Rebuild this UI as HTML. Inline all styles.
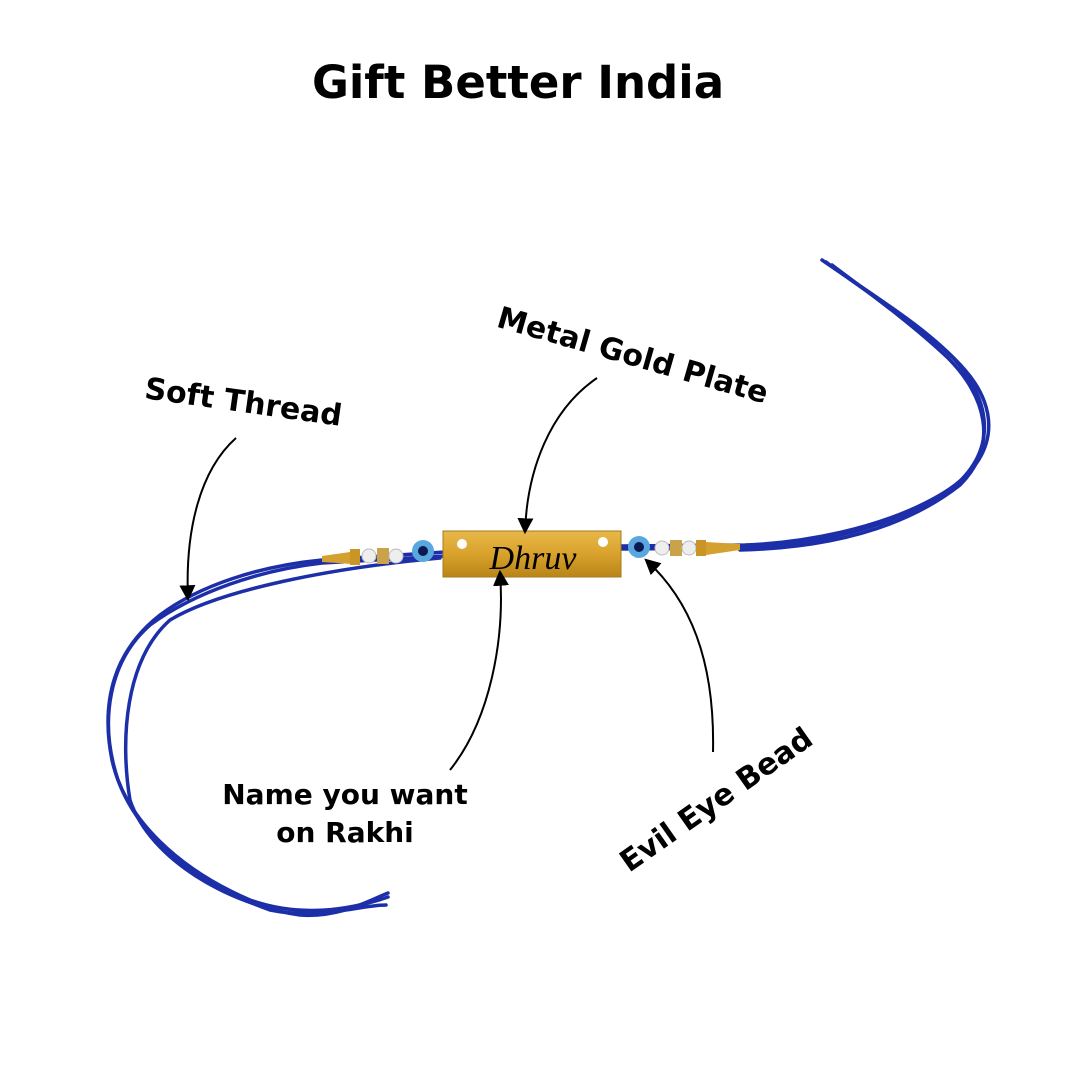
<!DOCTYPE html>
<html><head><style>
body{margin:0;background:#fff;}
svg{display:block}
text{font-family:"DejaVu Sans","Liberation Sans",sans-serif;font-weight:bold;fill:#000}
</style></head><body>
<svg width="1080" height="1080" viewBox="0 0 1080 1080">
<defs>
<marker id="ah" markerWidth="16" markerHeight="16" refX="12" refY="7" orient="auto" markerUnits="userSpaceOnUse" viewBox="0 0 14 14"><path d="M0,0 L14,7 L0,14 z" fill="#000"/></marker>
<linearGradient id="gold" x1="0" y1="0" x2="0" y2="1"><stop offset="0" stop-color="#e8b84a"/><stop offset="0.5" stop-color="#d9a22c"/><stop offset="1" stop-color="#b98517"/></linearGradient>
</defs>
<text x="518" y="98" font-size="45" text-anchor="middle">Gift Better India</text>

<g fill="none" stroke="#1d2fa8" stroke-width="3.5" stroke-linecap="round">
<path d="M445,552 L322,560 C260,566 200,585 160,615 C115,650 100,700 112,760 C125,820 180,870 250,900 C300,918 350,910 388,897"/>
<path d="M445,556 L322,563 C260,570 195,592 150,625 C110,660 98,720 118,780 C140,840 200,885 270,910 C320,920 360,905 386,905"/>
<path d="M440,558 C330,568 220,590 170,620 C125,660 120,740 130,800 C150,860 230,905 300,915 C340,918 370,900 388,893"/>
<path d="M620,546 L745,545 C800,543 880,530 940,495 C1000,460 1000,410 965,370 C930,330 880,300 822,260"/>
<path d="M620,549 L745,548 C810,545 890,530 950,490 C1000,450 990,400 955,360 C920,325 870,295 826,262"/>
<path d="M740,550 C820,548 900,532 960,485 C1000,445 985,395 948,358 C910,322 865,290 832,265"/>
</g>
<path d="M322,556 L350,552 L352,564 L322,562 z" fill="#d4a030"/>
<rect x="350" y="549" width="10" height="16" fill="#c99524"/>
<circle cx="369" cy="556" r="7" fill="#eee" stroke="#bbb"/>
<rect x="377" y="548" width="12" height="16" fill="#c9a24a"/>
<circle cx="396" cy="556" r="7" fill="#eee" stroke="#bbb"/>
<circle cx="423" cy="551" r="11" fill="#5aa7e0"/><circle cx="423" cy="551" r="5" fill="#0a1a50"/>
<circle cx="639" cy="547" r="11" fill="#5aa7e0"/><circle cx="639" cy="547" r="5" fill="#0a1a50"/>
<circle cx="662" cy="548" r="7" fill="#eee" stroke="#bbb"/>
<rect x="670" y="540" width="12" height="16" fill="#c9a24a"/>
<circle cx="689" cy="548" r="7" fill="#eee" stroke="#bbb"/>
<rect x="696" y="540" width="10" height="16" fill="#c99524"/>
<path d="M706,542 L740,544 L740,550 L706,555 z" fill="#d4a030"/>
<rect x="443" y="531" width="178" height="46" fill="url(#gold)" stroke="#a87a18"/>
<circle cx="462" cy="544" r="5" fill="#fff"/><circle cx="603" cy="542" r="5" fill="#fff"/>
<text x="533" y="569" font-size="34" text-anchor="middle" style="font-family:'Liberation Serif',serif;font-weight:normal;font-style:italic">Dhruv</text>

<text transform="translate(242,412) rotate(8)" font-size="30" text-anchor="middle">Soft Thread</text>
<text transform="translate(630,365) rotate(16)" font-size="30" text-anchor="middle">Metal Gold Plate</text>
<text x="345" y="804" font-size="28" text-anchor="middle">Name you want</text>
<text x="345" y="842" font-size="28" text-anchor="middle">on Rakhi</text>
<text transform="translate(722,808) rotate(-35)" font-size="30" text-anchor="middle">Evil Eye Bead</text>

<g fill="none" stroke="#000" stroke-width="2" marker-end="url(#ah)">
<path d="M236,438 C200,470 185,530 188,599"/>
<path d="M597,378 C550,410 527,470 525,532"/>
<path d="M450,770 C490,720 505,640 500,572"/>
<path d="M713,752 C715,660 690,600 646,560"/>
</g>
</svg>
</body></html>
